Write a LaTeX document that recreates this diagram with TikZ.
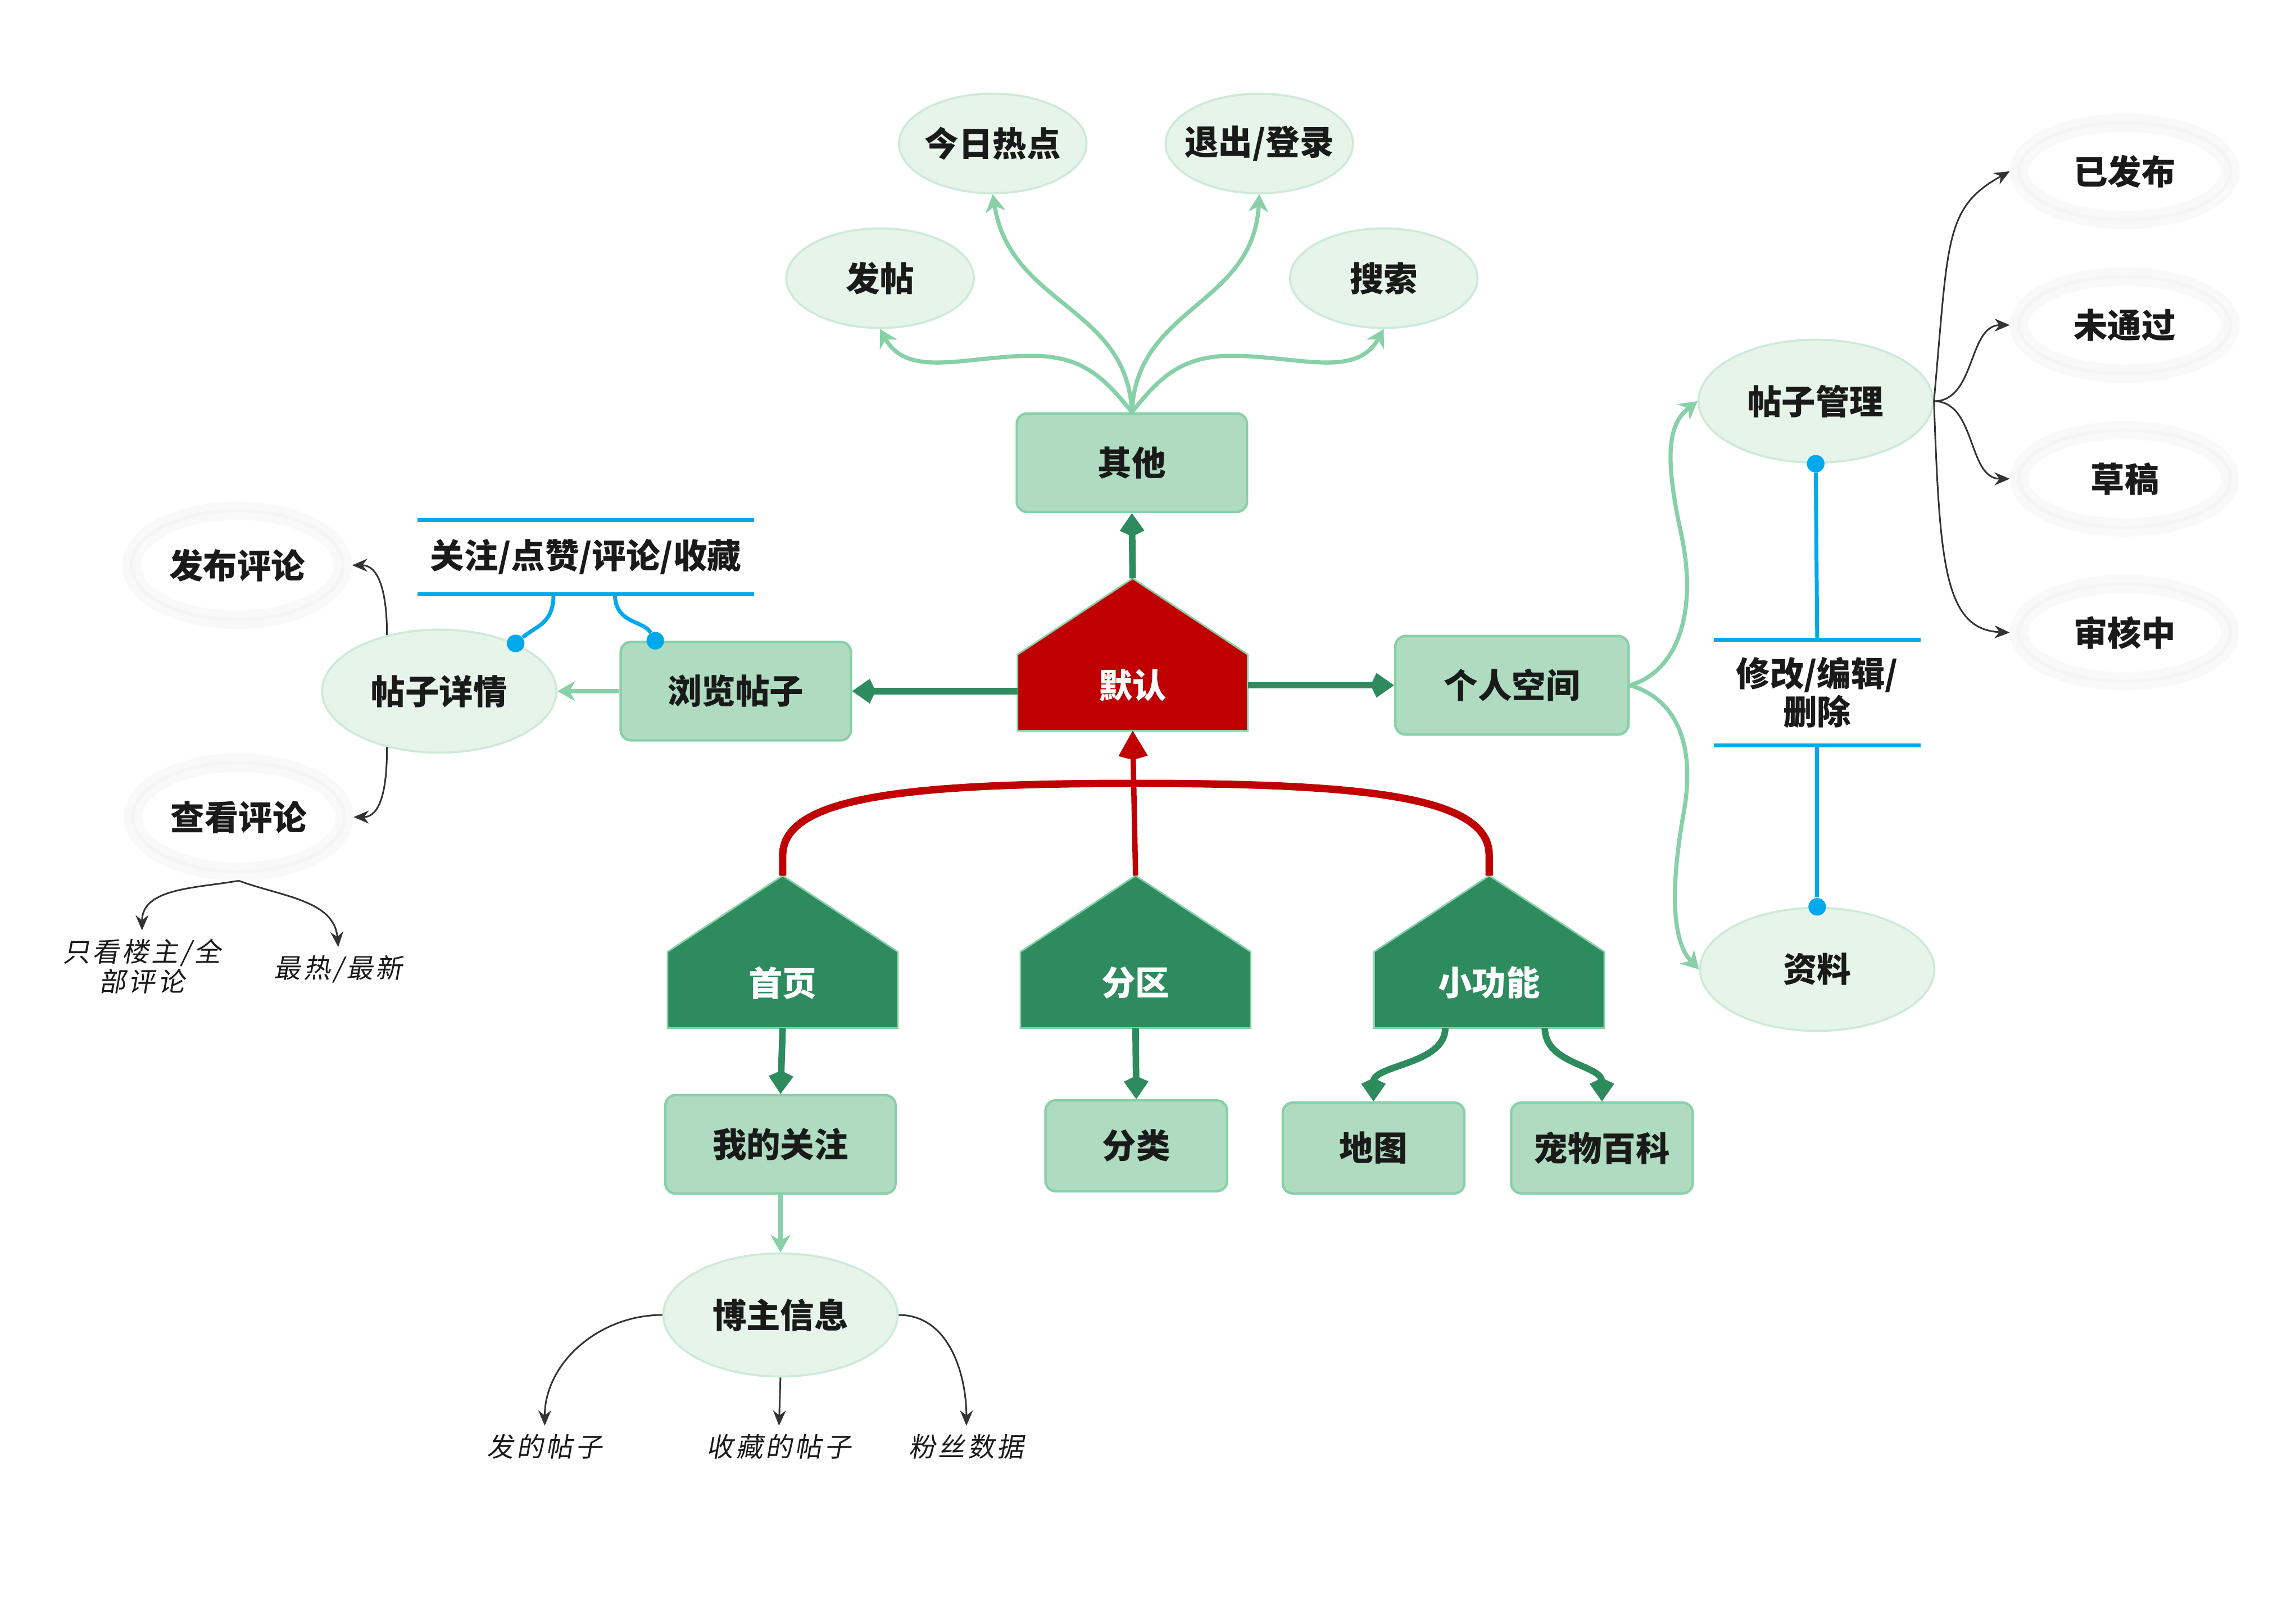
\documentclass[tikz,border=0pt]{standalone}
\usepackage{fontspec}
\setmainfont{Noto Sans CJK SC}
\newfontfamily\handfont[FakeSlant=0.18, LetterSpace=10]{Noto Sans CJK SC}
\usepackage{tikz}
\usetikzlibrary{calc,positioning,arrows.meta,shapes.geometric,backgrounds}
\definecolor{dkGreen}{HTML}{2E8B5E}
\definecolor{boxFill}{HTML}{AFDCC1}
\definecolor{lgLine}{HTML}{88D0A8}
\definecolor{ovFill}{HTML}{E7F4EA}
\definecolor{ovLine}{HTML}{CDEAD8}
\definecolor{defRed}{HTML}{C00000}
\definecolor{blueLine}{HTML}{00A9EC}
\definecolor{ink}{HTML}{1A1A1A}
\definecolor{arrGray}{HTML}{333333}
\newcommand{\cnbig}{\fontsize{16.5}{18.5}\selectfont\bfseries}
\newcommand{\cnhand}{\handfont\fontsize{13}{14.5}\selectfont}

\begin{document}
\begin{tikzpicture}[
  x=0.025cm, y=0.025cm,
  box/.style={rounded corners=5pt, draw=lgLine, line width=1.2pt, fill=boxFill, font=\cnbig, text=ink,
              minimum width=3.93cm, minimum height=1.68cm},
  sbox/.style={box, minimum width=3.1cm, minimum height=1.55cm},
  oval/.style={ellipse, draw=ovLine, line width=1pt, fill=ovFill, font=\cnbig, text=ink, inner xsep=-5pt,
              minimum width=3.2cm, minimum height=1.7cm},
  boval/.style={oval, minimum width=4cm, minimum height=2.1cm},
  glow/.style={ellipse, draw=black!2.5, line width=8.9pt, fill=white, font=\cnbig, text=ink, inner xsep=-5pt,
              minimum width=3.61cm, minimum height=1.66cm,
              postaction={draw=black!4, line width=1.5pt}},
  house/.style={inner sep=0pt, outer sep=0pt, minimum width=3.93cm, minimum height=1.3cm, text depth=0.3cm,
              font=\cnbig, text=white},
  hand/.style={font=\cnhand, text=ink, align=center, inner sep=4pt},
  bar/.style={inner sep=0pt, outer sep=0pt, font=\cnbig, text=ink, align=center},
  dot/.style={circle, fill=blueLine, inner sep=0pt, minimum size=0.3cm},
  g/.style={-{Kite[length=4mm, width=4.2mm, inset=1mm]}, draw=dkGreen, line width=3.2pt},
  lg/.style={-{Stealth[length=3mm, width=3.4mm]}, draw=lgLine, line width=2pt},
  rd/.style={draw=defRed, line width=2.6pt},
  bl/.style={draw=blueLine, line width=1.9pt},
  k/.style={-{Stealth[length=2.6mm, width=2.2mm]}, draw=arrGray, line width=0.8pt}
]
\useasboundingbox (0,0) rectangle (1568,1109);

% top branch
\node[box]  (qt) at (773,793)  {其他};
\node[oval] (ft) at (601,919)  {发帖};
\node[oval] (jr) at (678,1011) {今日热点};
\node[oval] (tc) at (860,1011) {退出/登录};
\node[oval] (ss) at (945,919)  {搜索};

% houses
\node[house] (def) at (773.5,636) {默认};
\node[house] (sy)  at (534.5,433) {首页};
\node[house] (fq)  at (775.5,433) {分区};
\node[house] (xgn) at (1017,433)  {小功能};

% left branch
\node[box]   (llt)  at (502.5,637) {浏览帖子};
\node[boval] (tzxq) at (300,637)   {帖子详情};
\node[bar, minimum width=5.75cm, minimum height=1.275cm] (gz) at (400,728.5) {关注/点赞/评论/收藏};
\node[glow, minimum height=1.86cm] (fbpl) at (162,723) {发布评论};
\node[glow, minimum height=1.86cm] (ckpl) at (163,551) {查看评论};
\node[hand] (zklz) at (97,449)  {只看楼主/全\\部评论};
\node[hand] (zrzx) at (231,447) {最热/最新};

% right branch
\node[box, minimum width=3.98cm] (grkj) at (1032.5,641) {个人空间};
\node[boval] (tzgl) at (1240,835) {帖子管理};
\node[boval] (zl)   at (1241,447) {资料};
\node[bar, minimum width=3.53cm, minimum height=1.8cm] (xg) at (1241,636) {修改/编辑/\\删除};
\node[glow] (yfb) at (1451,992) {已发布};
\node[glow] (wtg) at (1451,887) {未通过};
\node[glow] (cg)  at (1451,782) {草稿};
\node[glow] (shz) at (1451,677) {审核中};

% bottom branch
\node[box]  (wdgz) at (533,327.5) {我的关注};
\node[sbox] (fl)   at (776,326.5) {分类};
\node[sbox] (dt)   at (938,325)   {地图};
\node[sbox] (cwbk) at (1094,325)  {宠物百科};
\node[boval] (bzxx) at (533,211) {博主信息};
\node[hand] (fdtz) at (372,121) {发的帖子};
\node[hand] (sctz) at (532,121) {收藏的帖子};
\node[hand] (fssj) at (660,121) {粉丝数据};

\node[dot] (d1) at (tzxq.32) {};
\node[dot] (d2) at ($(llt.north)+(-55,0)$) {};
\node[dot] (d3) at (tzgl.south) {};
\node[dot] (d4) at (zl.north) {};

\begin{scope}[on background layer]
\foreach \h/\c in {def/defRed,sy/dkGreen,fq/dkGreen,xgn/dkGreen}
  \filldraw[fill=\c, draw=lgLine, line width=0.8pt] (\h.south west) -- (\h.north west)
    -- ($(\h.north)+(0,52)$) coordinate (\h-top) -- (\h.north east) -- (\h.south east) -- cycle;
\end{scope}

\draw[g]  (def-top) -- (qt.south);
\draw[lg] (qt.north) .. controls (755,850) and (740,866) .. (705,866) .. controls (660,866) and (620,850) .. (ft.south);
\draw[lg] (qt.north) .. controls (770,900) and (690,900) .. (jr.south);
\draw[lg] (qt.north) .. controls (776,900) and (856,900) .. (tc.south);
\draw[lg] (qt.north) .. controls (791,850) and (806,866) .. (841,866) .. controls (886,866) and (926,850) .. (ss.south);

\draw[g]  (llt.east -| def.west) -- (llt.east);
\draw[lg] (llt.west) -- (tzxq.east);
\draw[bl] (gz.north west) -- (gz.north east);
\draw[bl] (gz.south west) -- (gz.south east);
\draw[bl] ($(gz.south)+(-22,0)$) .. controls +(0,-20) and +(14,12) .. (d1);
\draw[bl] ($(gz.south)+(20,0)$) .. controls +(0,-20) and +(-8,14) .. (d2);
\draw[k] (tzxq.133) to[out=90, in=0] (fbpl.east);
\draw[k] (tzxq.-133) to[out=-90, in=0] (ckpl.east);
\draw[k] (ckpl.south) to[out=190, in=90] (zklz.north);
\draw[k] (ckpl.south) to[out=-20, in=95] (zrzx.north);

\draw[g]  (grkj.west -| def.east) -- (grkj.west);
\draw[lg] (grkj.east) .. controls (1145,650) and (1160,690) .. (1148,745) .. controls (1136,800) and (1140,820) .. (tzgl.west);
\draw[lg] (grkj.east) .. controls (1145,632) and (1158,600) .. (1150,555) .. controls (1142,510) and (1140,468) .. (zl.west);
\draw[bl] (d3) -- (xg.north);
\draw[bl] (xg.north west) -- (xg.north east);
\draw[bl] (xg.south west) -- (xg.south east);
\draw[bl] (xg.south) -- (d4);
\draw[k] (tzgl.east) .. controls +(10,110) and +(-45,-25) .. (yfb.west);
\draw[k] (tzgl.east) to[out=0, in=180] (wtg.west);
\draw[k] (tzgl.east) to[out=0, in=180] (cg.west);
\draw[k] (tzgl.east) .. controls +(4,-110) and +(-45,2) .. (shz.west);

\draw[rd, -{Kite[length=5mm, width=5mm, inset=0.7mm]}] (fq-top) -- (def.south);
\draw[rd, line width=3.6pt] (sy-top) -- ++(0,14) .. controls (535,565) and (620,574) .. (776,574)
  .. controls (932,574) and (1017,565) .. ($(xgn-top)+(0,14)$) -- (xgn-top);
\draw[g] (sy.south) -- (wdgz.north);
\draw[g] (fq.south) -- (fl.north);
\draw[g] ($(xgn.south)+(-30,0)$) .. controls +(0,-25) and +(0,25) .. (dt.north);
\draw[g] ($(xgn.south)+(38,0)$) .. controls +(0,-25) and +(0,25) .. (cwbk.north);
\draw[lg] (wdgz.south) -- (bzxx.north);
\draw[k] (bzxx.west) to[out=180, in=90] (fdtz.north);
\draw[k] (bzxx.south) -- (sctz.north);
\draw[k] (bzxx.east) to[out=0, in=90] (fssj.north);
\end{tikzpicture}
\end{document}
